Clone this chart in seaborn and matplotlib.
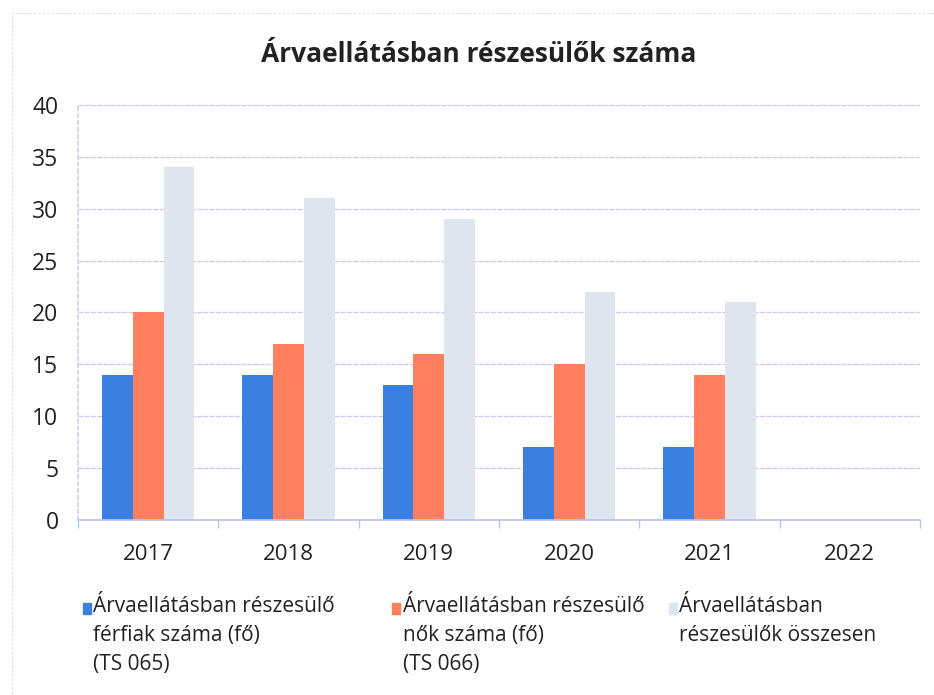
import matplotlib
matplotlib.use("Agg")
import matplotlib.pyplot as plt
import seaborn as sns
import pandas as pd
import numpy as np
from matplotlib.patches import Rectangle

years = ["2017", "2018", "2019", "2020", "2021", "2022"]
ferfiak = [14, 14, 13, 7, 7, np.nan]
nok = [20, 17, 16, 15, 14, np.nan]
osszesen = [34, 31, 29, 22, 21, np.nan]
series_names = [
    "Árvaellátásban részesülő\nférfiak száma (fő)\n(TS 065)",
    "Árvaellátásban részesülő\nnők száma (fő)\n(TS 066)",
    "Árvaellátásban\nrészesülők összesen",
]
colors = ["#3a80e0", "#ff7f5f", "#dfe5ee"]
yticks = [0, 5, 10, 15, 20, 25, 30, 35, 40]

rows = []
for name, vals in zip(series_names, [ferfiak, nok, osszesen]):
    for y, v in zip(years, vals):
        rows.append({"Év": y, "Sorozat": name, "Érték": v})
df = pd.DataFrame(rows)

sns.set_theme(style="white")
plt.rcParams["font.family"] = ["Open Sans", "DejaVu Sans"]

fig = plt.figure(figsize=(9.34, 6.95), dpi=100)
ax = fig.add_axes([0.0835, 0.2518, 0.9015, 0.5972])

sns.barplot(data=df, x="Év", y="Érték", hue="Sorozat", order=years,
            hue_order=series_names, palette=colors, width=0.66,
            errorbar=None, ax=ax, linewidth=0, saturation=1)

ax.set_ylim(0, 40)
ax.set_xlim(-0.5, 5.5)
ax.set_yticks(yticks)
ax.set_yticklabels([str(t) for t in yticks], fontsize=16.5, color="#222222")
ax.set_xticklabels(years, fontsize=16, color="#222222")
ax.set_xlabel("")
ax.set_ylabel("")
ax.grid(axis="y", color="#c9c9ee", linewidth=0.9, linestyle=(0, (4, 1)))
ax.set_axisbelow(True)
for s in ["top", "right"]:
    ax.spines[s].set_visible(False)
ax.spines["left"].set_color("#d0d0ee")
ax.spines["left"].set_linestyle((0, (2, 2)))
ax.spines["bottom"].set_color("#b8c4ea")
ax.tick_params(axis="y", length=0, pad=14)
ax.tick_params(axis="x", which="major", length=0, pad=17)
ax.set_xticks(np.arange(-0.5, 6.0, 1.0), minor=True)
ax.tick_params(axis="x", which="minor", length=6, color="#b8c4ea", width=1, bottom=True)

fig.text(0.512, 0.921, "Árvaellátásban részesülők száma", fontsize=19,
         fontweight="bold", color="#222222", ha="center", va="center")

handles, labels = ax.get_legend_handles_labels()
ax.get_legend().remove()

# legend drawn as three columns
xs = [0.089, 0.420, 0.716]
for x, c, lab in zip(xs, colors, labels):
    fig.patches.append(Rectangle((x, 0.116), 0.0085, 0.0165,
                                 transform=fig.transFigure, color=c, figure=fig))
    fig.text(x + 0.011, 0.143, lab, fontsize=15, color="#222222", va="top",
             ha="left", linespacing=1.52)

fig.patches.append(Rectangle((0.013, 0.0), 0.987, 0.982, transform=fig.transFigure,
                             fill=False, edgecolor="#dddddd", linewidth=0.8,
                             linestyle=(0, (2, 2)), figure=fig))

fig.savefig("out.png", dpi=100)
